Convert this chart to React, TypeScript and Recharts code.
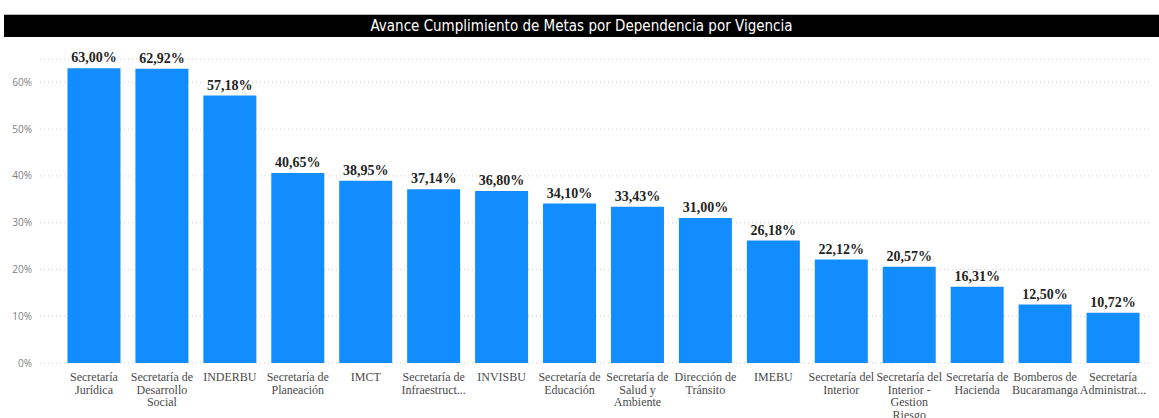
import React from 'react';
import { BarChart, Bar, XAxis, YAxis, CartesianGrid, LabelList } from 'recharts';

const dependencias = [
  'Secretaría Jurídica',
  'Secretaría de Desarrollo Social',
  'INDERBU',
  'Secretaría de Planeación',
  'IMCT',
  'Secretaría de Infraestructura',
  'INVISBU',
  'Secretaría de Educación',
  'Secretaría de Salud y Ambiente',
  'Dirección de Tránsito',
  'IMEBU',
  'Secretaría del Interior',
  'Secretaría del Interior - Gestion Riesgo',
  'Secretaría de Hacienda',
  'Bomberos de Bucaramanga',
  'Secretaría Administrativa',
];

const avance = [63.0, 62.92, 57.18, 40.65, 38.95, 37.14, 36.8, 34.1, 33.43, 31.0, 26.18, 22.12, 20.57, 16.31, 12.5, 10.72];

// tick labels as shown (wrapped / truncated)
const etiquetas = [
  ['Secretaría', 'Jurídica'],
  ['Secretaría de', 'Desarrollo', 'Social'],
  ['INDERBU'],
  ['Secretaría de', 'Planeación'],
  ['IMCT'],
  ['Secretaría de', 'Infraestruct...'],
  ['INVISBU'],
  ['Secretaría de', 'Educación'],
  ['Secretaría de', 'Salud y', 'Ambiente'],
  ['Dirección de', 'Tránsito'],
  ['IMEBU'],
  ['Secretaría del', 'Interior'],
  ['Secretaría del', 'Interior -', 'Gestion', 'Riesgo'],
  ['Secretaría de', 'Hacienda'],
  ['Bomberos de', 'Bucaramanga'],
  ['Secretaría', 'Administrat...'],
];

const yTicks = [0, 10, 20, 30, 40, 50, 60];

const data = dependencias.map((name, i) => ({ name, value: avance[i] }));

const fmt = (v: number) => v.toFixed(2).replace('.', ',') + '%';

const CategoryTick = (props: any) => {
  const { x, y, index } = props;
  const lines = etiquetas[index] || [];
  return (
    <text
      x={x}
      y={y}
      textAnchor="middle"
      fill="#4a4a4a"
      style={{ fontFamily: '"Liberation Serif", serif', fontSize: 12 }}
    >
      {lines.map((l, i) => (
        <tspan key={i} x={x} dy={i === 0 ? 10 : 12.5}>
          {l}
        </tspan>
      ))}
    </text>
  );
};

export default function App() {
  return (
    <div style={{ position: 'absolute', left: 0, top: 0, width: 1159, height: 418, background: '#fff', overflow: 'hidden' }}>
      <div
        style={{
          position: 'absolute',
          left: 4,
          top: 14,
          width: 1155,
          height: 23,
          background: '#000',
          borderTop: '1px solid #bbb',
          boxSizing: 'border-box',
          color: '#fff',
          textAlign: 'center',
          lineHeight: '22px',
          fontFamily: '"Liberation Sans Narrow", "DejaVu Sans Condensed", sans-serif',
          fontSize: 15,
        }}
      >
        Avance Cumplimiento de Metas por Dependencia por Vigencia
      </div>
      <div style={{ position: 'absolute', left: 0, top: 0 }}>
        <BarChart
          width={1159}
          height={418}
          data={data}
          margin={{ top: 59, right: 9, bottom: 0, left: 0 }}
          barCategoryGap="11%"
        >
          <CartesianGrid vertical={false} stroke="#cfcfcf" strokeDasharray="1 3" />
          <XAxis
            dataKey="name"
            interval={0}
            axisLine={false}
            tickLine={false}
            height={55}
            padding={{ left: 20, right: 3 }}
            tick={<CategoryTick />}
          />
          <YAxis
            width={40}
            domain={[0, 65]}
            ticks={yTicks}
            axisLine={false}
            tickLine={false}
            tickFormatter={(v: number) => `${v}%`}
            tick={{ fill: '#808080', fontSize: 10, fontFamily: '"Open Sans", sans-serif' }}
          />
          <Bar dataKey="value" fill="#118DFF" isAnimationActive={false}>
            <LabelList
              dataKey="value"
              position="top"
              offset={6}
              formatter={(v: any) => fmt(Number(v))}
              style={{ fontFamily: '"Liberation Serif", serif', fontSize: 14, fontWeight: 700, fill: '#252423' }}
            />
          </Bar>
        </BarChart>
      </div>
    </div>
  );
}
